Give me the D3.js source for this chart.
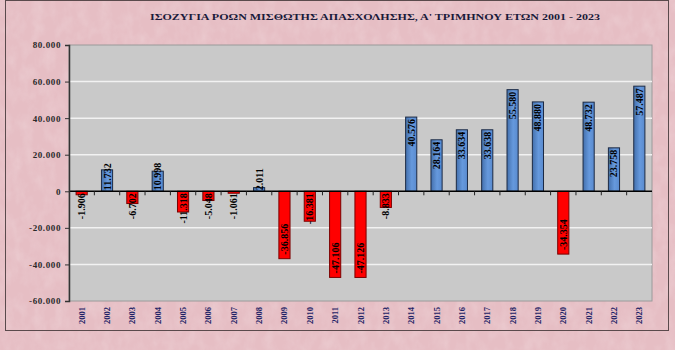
<!DOCTYPE html>
<html><head><meta charset="utf-8">
<script src="https://cdn.jsdelivr.net/npm/d3@7"></script>
<style>html,body{margin:0;padding:0;background:#fff;}svg{display:block;}</style>
</head><body>
<script>
const title = "ΙΣΟΖΥΓΙΑ ΡΟΩΝ ΜΙΣΘΩΤΗΣ ΑΠΑΣΧΟΛΗΣΗΣ, Α' ΤΡΙΜΗΝΟΥ ΕΤΩΝ  2001 - 2023";
const years = ["2001","2002","2003","2004","2005","2006","2007","2008","2009","2010","2011","2012","2013","2014","2015","2016","2017","2018","2019","2020","2021","2022","2023"];
const values = [-1906, 11732, -6702, 10998, -11318, -5048, -1061, 2011, -36856, -16381, -47106, -47126, -8833, 40576, 28164, 33634, 33638, 55580, 48880, -34354, 48732, 23758, 57487];
const yTicks = [-60000, -40000, -20000, 0, 20000, 40000, 60000, 80000];

const W = 675, H = 350;
const svg = d3.select("body").append("svg").attr("width", W).attr("height", H);
const defs = svg.append("defs");
const f = defs.append("filter").attr("id","tex").attr("x",0).attr("y",0).attr("width","100%").attr("height","100%");
f.append("feTurbulence").attr("type","fractalNoise").attr("baseFrequency","0.09 0.06").attr("numOctaves",3).attr("seed",4).attr("result","n");
f.append("feColorMatrix").attr("in","n").attr("type","matrix")
 .attr("values","0 0 0 0 1  0 0 0 0 1  0 0 0 0 1  1.2 0 0 0 -0.45");
const gb = defs.append("linearGradient").attr("id","gblue").attr("x1","0").attr("x2","1").attr("y1","0").attr("y2","0");
gb.append("stop").attr("offset","0%").attr("stop-color","#4470ad");
gb.append("stop").attr("offset","55%").attr("stop-color","#6699dd");
gb.append("stop").attr("offset","100%").attr("stop-color","#5a8bcf");

// background
svg.append("rect").attr("x",0).attr("y",0).attr("width",W).attr("height",H).attr("fill","#e6bec4");
svg.append("rect").attr("x",0).attr("y",0).attr("width",W).attr("height",H).attr("filter","url(#tex)").attr("opacity",0.25);
svg.append("rect").attr("x",5.5).attr("y",0.5).attr("width",663).attr("height",330).attr("fill","none").attr("stroke","#5a4a4c").attr("stroke-width",1);

const L = 69, R = 652, T = 45, B = 301;
const x = d3.scaleBand().domain(years).range([L, R]).paddingInner(0.56).paddingOuter(0.28);
const y = d3.scaleLinear().domain([-60000, 80000]).range([B, T]);

// plot area
svg.append("rect").attr("x",L).attr("y",T).attr("width",R-L).attr("height",B-T).attr("fill","#c9c9c9").attr("stroke","#9a9a9a");
svg.append("g").selectAll("line").data(yTicks.filter(d=>d!==0 && d!==80000 && d!==-60000)).join("line")
  .attr("x1",L).attr("x2",R).attr("y1",d=>y(d)).attr("y2",d=>y(d)).attr("stroke","#f2f2f2").attr("stroke-width",1.5);

const fmt = v => { if (v===0) return "0"; const s = d3.format(",")(v).replace(/,/g,"."); return s.replace("−","-"); };
const fmtT = v => v===0 ? "0" : (v<0?"-":"") + d3.format(",")(Math.abs(v)/1000).replace(/,/g,".") + ".000";

// bars
svg.append("g").selectAll("rect").data(years).join("rect")
  .attr("x", (d)=>x(d))
  .attr("width", x.bandwidth())
  .attr("y", (d,i)=>y(Math.max(0, values[i])))
  .attr("height", (d,i)=>Math.abs(y(values[i]) - y(0)))
  .attr("fill", (d,i)=>values[i] >= 0 ? "url(#gblue)" : "#ff0000")
  .attr("stroke", (d,i)=>values[i] >= 0 ? "#1c2a44" : "#7a0000")
  .attr("stroke-width", 1);

// zero line + category ticks
svg.append("line").attr("x1",L).attr("x2",R).attr("y1",y(0)).attr("y2",y(0)).attr("stroke","#000").attr("stroke-width",1.5);
svg.append("g").selectAll("line").data(d3.range(1, years.length)).join("line")
  .attr("x1",d=>L + (R-L)/years.length*d).attr("x2",d=>L + (R-L)/years.length*d)
  .attr("y1",y(0)).attr("y2",y(0)+4).attr("stroke","#222").attr("stroke-width",1);

// y axis
const ya = d3.axisLeft(y).tickValues(yTicks).tickSize(4).tickFormat(fmtT);
const yg = svg.append("g").attr("transform",`translate(${L},0)`).call(ya);
yg.select(".domain").attr("stroke","#333").attr("stroke-width",1.5);
yg.selectAll(".tick line").attr("stroke","#333");
yg.selectAll("text").attr("font-family","Liberation Serif, serif").attr("font-size",9).attr("font-weight","bold").attr("fill","#2a2a2a").attr("x",-8).style("letter-spacing","0.6px");

// x labels
svg.append("g").selectAll("text").data(years).join("text")
  .attr("transform", d=>`translate(${x(d)+x.bandwidth()/2+3},307) rotate(-90)`)
  .attr("text-anchor","end")
  .attr("font-family","Liberation Serif, serif").attr("font-size",8.5).attr("font-weight","bold").attr("fill","#1e2366")
  .text(d=>d);

// data labels
const fs = 10;
const lab = svg.append("g").selectAll("text").data(years).join("text")
  .attr("font-family","Liberation Serif, serif").attr("font-size",fs).attr("font-weight","bold").attr("fill","#000")
  .text((d,i)=>fmt(values[i]));
lab.each(function(d,i){
  const len = this.getComputedTextLength();
  const v = values[i];
  const cx = x(d) + x.bandwidth()/2 + 3.5;
  const h = Math.abs(y(v)-y(0));
  let yy, anchor;
  if (v >= 0) {
    if (h - 2 >= len) { yy = y(v) + 2; anchor = "end"; }
    else { yy = y(0) - 1; anchor = "start"; }
  } else {
    if (h - 4 >= len) { yy = y(v) - 4; anchor = "start"; }
    else { yy = y(0) + 2; anchor = "end"; }
  }
  d3.select(this).attr("text-anchor",anchor).attr("transform",`translate(${cx},${yy}) rotate(-90)`);
});

// title
svg.append("text").attr("x",375).attr("y",20).attr("text-anchor","middle")
  .attr("font-family","Liberation Serif, serif").attr("font-size",9).attr("font-weight","bold").attr("fill","#1a1a3a")
  .attr("textLength",450).attr("lengthAdjust","spacingAndGlyphs")
  .text(title);
</script>
</body></html>
